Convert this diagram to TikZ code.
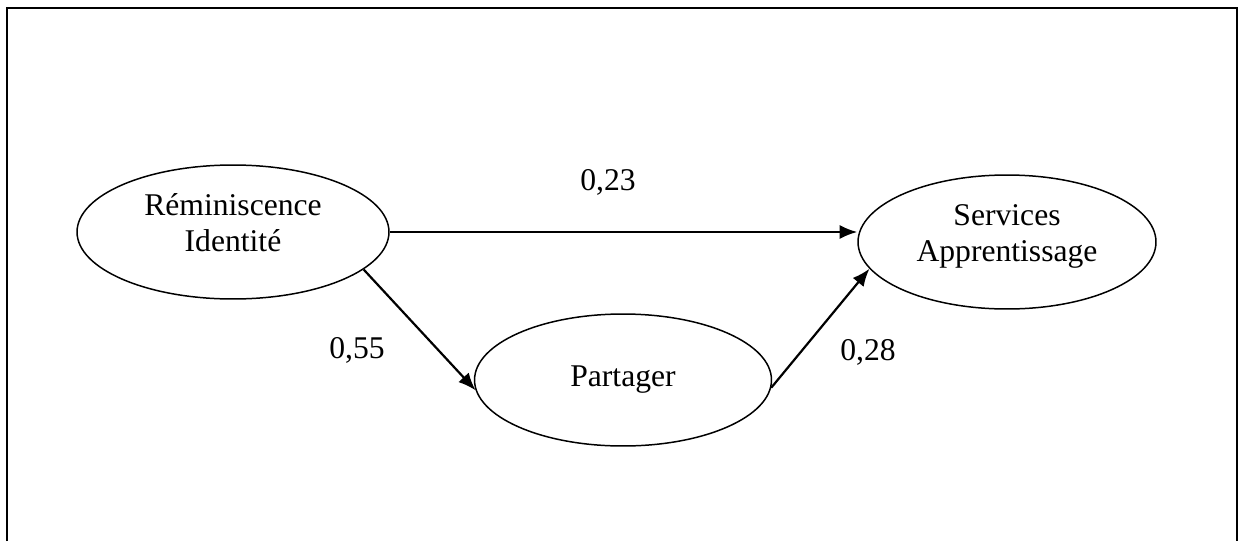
\documentclass[tikz,border=0pt]{standalone}
\usepackage{fontspec}
\setmainfont{Liberation Serif}
\usetikzlibrary{shapes.geometric,arrows.meta}
\tikzset{
  latent/.style={draw,ellipse,line width=0.85pt,inner sep=0pt,align=center,
    font=\fontsize{18}{20.5}\selectfont},
  coef/.style={font=\fontsize{18}{20.5}\selectfont},
  path/.style={->,line width=1.25pt}
}
\newcommand{\twolines}[2]{\raisebox{3.5pt}[\height][\depth]{\begin{tabular}{@{}c@{}}#1\\#2\end{tabular}}}
\begin{document}
\begin{tikzpicture}[>={Latex[length=10pt,width=8pt]},x=0.02cm,y=-0.02cm]
  \useasboundingbox (0,0) rectangle (1239,541);
  % Cadre
  \draw[line width=1.4pt] (7,541) -- (7,8) -- (1237,8) -- (1237,541);
  % Variables
  \node[latent,minimum width=6.24cm,minimum height=2.68cm] (remi) at (233,232) {\twolines{R\'eminiscence}{Identit\'e}};
  \node[latent,minimum width=5.96cm,minimum height=2.68cm] (serv) at (1007,242) {\twolines{Services}{Apprentissage}};
  \node[latent,minimum width=5.94cm,minimum height=2.64cm] (part) at (623,380) {Partager};
  % Liens
  \draw[path] (remi.east) -- (remi.east -| serv.west);
  \draw[path] (remi.-16) -- (part.184);
  \draw[path] (part.-3) -- (serv.191);
  % Coefficients
  \node[coef] (c23) at (608,182) {0,23};
  \node[coef] (c55) at (357,350) {0,55};
  \node[coef] (c28) at (868,352) {0,28};
\end{tikzpicture}
\end{document}
